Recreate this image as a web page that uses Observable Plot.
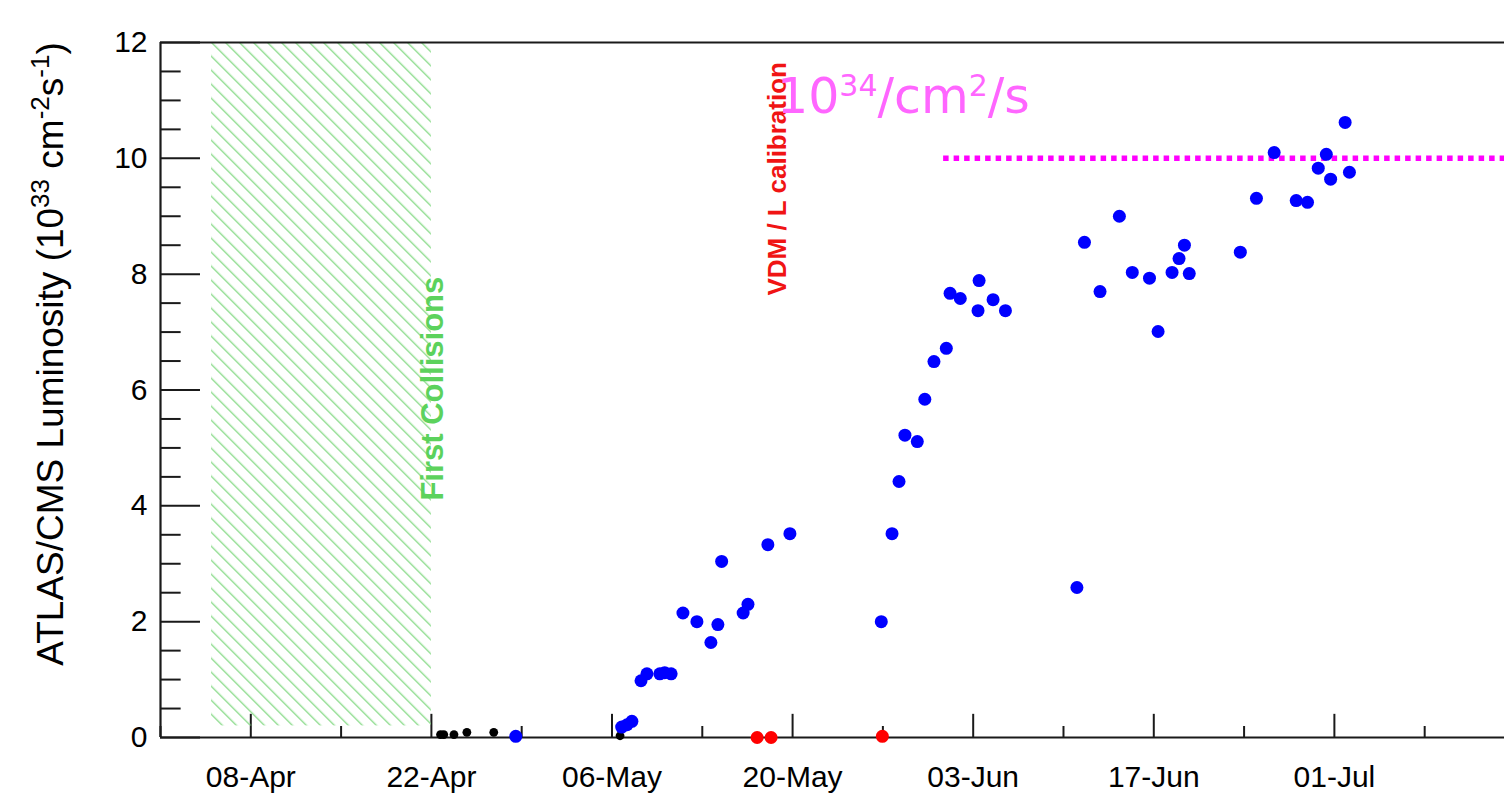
<!DOCTYPE html>
<html><head><meta charset="utf-8">
<script src="https://cdn.jsdelivr.net/npm/d3@7"></script>
<script src="https://cdn.jsdelivr.net/npm/@observablehq/plot@0.6"></script>
<style>html,body{margin:0;padding:0;background:#fff;overflow:hidden}</style>
</head><body><div id="chart"></div>
<script>
// ---- axis / tick data ----
const xStart = "2016-04-01T00:00Z";
const xEnd = "2016-07-14T04:30Z";
const xMajorTicks = ["2016-04-08","2016-04-22","2016-05-06","2016-05-20","2016-06-03","2016-06-17","2016-07-01"];
const xMinorTicks = ["2016-04-01","2016-04-15","2016-04-29","2016-05-13","2016-05-27","2016-06-10","2016-06-24","2016-07-08"];
const yMajorTicks = [0,2,4,6,8,10,12];
const yMinorTicks = [0.5,1,1.5,2.5,3,3.5,4.5,5,5.5,6.5,7,7.5,8.5,9,9.5,10.5,11,11.5];
// title pieces: [text, isSuperscript]
const yTitleParts = [["ATLAS/CMS Luminosity (10", false], ["33", true], [" cm", false], ["-2", true], ["s", false], ["-1", true], [")", false]];
const unitParts = [["10", false], ["34", true], ["/cm", false], ["2", true], ["/s", false]];

// ---- series: blue (physics fills) ----
const blueDates = [
 "2016-04-28T13:00Z","2016-05-06T18:00Z","2016-05-07T04:00Z","2016-05-07T13:00Z",
 "2016-05-08T06:00Z","2016-05-08T17:00Z","2016-05-09T17:00Z","2016-05-10T02:00Z","2016-05-10T14:00Z",
 "2016-05-11T12:00Z","2016-05-12T14:00Z","2016-05-13T16:00Z","2016-05-14T05:00Z","2016-05-14T12:00Z",
 "2016-05-16T04:00Z","2016-05-16T13:00Z","2016-05-18T02:00Z","2016-05-19T19:00Z",
 "2016-05-26T21:00Z","2016-05-27T17:00Z","2016-05-28T06:00Z","2016-05-28T17:00Z","2016-05-29T16:00Z",
 "2016-05-30T06:00Z","2016-05-30T23:00Z","2016-05-31T22:00Z","2016-06-01T05:00Z","2016-06-02T00:00Z",
 "2016-06-03T09:00Z","2016-06-03T11:00Z","2016-06-04T13:00Z","2016-06-05T12:00Z",
 "2016-06-11T01:00Z","2016-06-11T15:00Z","2016-06-12T20:00Z","2016-06-14T08:00Z","2016-06-15T08:00Z",
 "2016-06-16T16:00Z","2016-06-17T08:00Z","2016-06-18T10:00Z","2016-06-18T23:00Z","2016-06-19T09:00Z",
 "2016-06-19T18:00Z","2016-06-23T17:00Z","2016-06-24T23:00Z","2016-06-26T08:00Z","2016-06-28T01:00Z",
 "2016-06-28T22:00Z","2016-06-29T18:00Z","2016-06-30T09:00Z","2016-06-30T17:00Z","2016-07-01T20:00Z",
 "2016-07-02T04:00Z"];
const blueValues = [
 0.02,0.18,0.22,0.28,
 0.98,1.10,1.10,1.12,1.10,
 2.15,2.00,1.64,1.95,3.04,
 2.15,2.30,3.33,3.52,
 2.00,3.52,4.42,5.22,5.11,
 5.84,6.49,6.72,7.67,7.58,
 7.37,7.89,7.56,7.37,
 2.59,8.55,7.70,9.00,8.03,
 7.93,7.01,8.03,8.27,8.50,
 8.01,8.38,9.31,10.10,9.27,
 9.24,9.83,10.07,9.64,10.62,
 9.76];

// ---- series: red (VDM / calibration fills) ----
const redDates = ["2016-05-17T06:00Z","2016-05-18T08:00Z","2016-05-26T23:00Z"];
const redValues = [0.0, 0.0, 0.02];

// ---- series: black (early low-intensity fills) ----
const blackDates = ["2016-04-22T17:00Z","2016-04-22T23:00Z","2016-04-23T18:00Z","2016-04-24T18:00Z","2016-04-26T20:00Z","2016-05-06T15:00Z"];
const blackValues = [0.05,0.05,0.05,0.09,0.09,0.03];

// ---- annotations ----
const hatchStart = "2016-04-04T23:00Z", hatchEnd = "2016-04-22T00:00Z";
const hatchLow = 0.2, hatchHigh = 12;
const targetValue = 10, targetStart = "2016-05-31T17:00Z";
const labelTexts = ["First Collisions", "VDM / L calibration", unitParts.map(p => p[0]).join("")];
const labelDates = ["2016-04-22T21:00Z", "2016-05-19T11:00Z", "2016-05-18T19:00Z"];
const labelValues = [4.09, 7.63, 10.79];

const P = s => new Date(s);
const toRows = (ds, vs) => ds.map((d, i) => ({date: P(d), value: vs[i]}));
const blue = toRows(blueDates, blueValues);
const red = toRows(redDates, redValues);
const black = toRows(blackDates, blackValues);
const labels = labelTexts.map((t, i) => ({text: t, date: P(labelDates[i]), value: labelValues[i]}));
const yTitle = yTitleParts.map(p => p[0]).join("");

const x0 = P(xStart), x1 = P(xEnd);
const dayMs = 864e5;
const majXLen = 0.4, minXLen = 0.19;
const majYLen = 3.1 * dayMs, minYLen = 1.6 * dayMs;
const ink = "#1a1a1a";

const chart = Plot.plot({
  width: 1504, height: 796,
  marginLeft: 160, marginRight: 0, marginTop: 42, marginBottom: 59,
  x: {type: "utc", domain: [x0, x1]},
  y: {domain: [0, 12]},
  style: {fontFamily: "'Liberation Sans', Arial, sans-serif", background: "white", color: "black", overflow: "visible"},
  marks: [
    Plot.rect([{a: P(hatchStart), b: P(hatchEnd)}], {x1: "a", x2: "b", y1: () => hatchLow, y2: () => hatchHigh, fill: "white"}),
    Plot.ruleX(xMajorTicks.map(P), {x: d => d, y1: 0, y2: majXLen, stroke: ink, strokeWidth: 2}),
    Plot.ruleX(xMinorTicks.map(P), {x: d => d, y1: 0, y2: minXLen, stroke: ink, strokeWidth: 2}),
    Plot.ruleY(yMajorTicks, {y: d => d, x1: () => x0, x2: () => new Date(+x0 + majYLen), stroke: ink, strokeWidth: 2}),
    Plot.ruleY(yMinorTicks, {y: d => d, x1: () => x0, x2: () => new Date(+x0 + minYLen), stroke: ink, strokeWidth: 2}),
    Plot.rect([{a: P(hatchStart), b: P(hatchEnd)}], {x1: "a", x2: "b", y1: () => hatchLow, y2: () => hatchHigh, fill: "url(#hatch)"}),
    Plot.ruleY([0], {stroke: ink, strokeWidth: 2.2}),
    Plot.ruleY([12], {stroke: ink, strokeWidth: 2.2}),
    Plot.ruleX([x0], {stroke: ink, strokeWidth: 2.2}),
    Plot.axisX(xMajorTicks.map(P), {tickSize: 0, tickPadding: 28, tickFormat: d3.utcFormat("%d-%b"), fontSize: 30, label: null, fill: "black"}),
    Plot.axisY(yMajorTicks, {tickSize: 0, tickPadding: 13, tickFormat: d => String(d), fontSize: 30, label: null, fill: "black"}),
    Plot.text([yTitle], {frameAnchor: "left", text: d => d, rotate: -90, dx: -98, dy: -36, textAnchor: "middle", lineAnchor: "bottom", fontSize: 37, fill: "black"}),
    Plot.ruleY([{v: targetValue, a: P(targetStart)}], {y: "v", x1: "a", x2: () => x1, stroke: "#ff00ff", strokeWidth: 5.5, strokeDasharray: "5.5,5"}),
    Plot.text([labels[0]], {x: "date", y: "value", text: "text", rotate: -90, textAnchor: "start", lineAnchor: "bottom", fontSize: 31, fontWeight: "bold", fill: "#5cd25c"}),
    Plot.text([labels[1]], {x: "date", y: "value", text: "text", rotate: -90, textAnchor: "start", lineAnchor: "bottom", fontSize: 26, fontWeight: "bold", fill: "#f01414"}),
    Plot.text([labels[2]], {x: "date", y: "value", text: "text", textAnchor: "start", lineAnchor: "bottom", fontSize: 49, fontFamily: "'DejaVu Sans', sans-serif", fill: "#ff66ff"}),
    Plot.dot(black, {x: "date", y: "value", r: 4.4, fill: "black", stroke: "none"}),
    Plot.dot(red, {x: "date", y: "value", r: 6.5, fill: "#ff0000", stroke: "none"}),
    Plot.dot(blue, {x: "date", y: "value", r: 6.5, fill: "#0000ff", stroke: "none"})
  ]
});

const svg = chart.tagName.toLowerCase() === "svg" ? chart : chart.querySelector("svg");
const ns = "http://www.w3.org/2000/svg";
const defs = document.createElementNS(ns, "defs");
defs.innerHTML = '<pattern id="hatch" patternUnits="userSpaceOnUse" width="9.9" height="9.9" patternTransform="rotate(-45)"><line x1="0.7" y1="0" x2="0.7" y2="9.9" stroke="#86da86" stroke-width="1.3"/></pattern>';
svg.insertBefore(defs, svg.firstChild);

// turn superscript parts into real tspans
function superscript(fullText, parts, supSize, raise) {
  for (const t of svg.querySelectorAll("text")) {
    if (t.textContent !== fullText) continue;
    t.textContent = "";
    let up = false;
    for (const [s, sup] of parts) {
      const ts = document.createElementNS(ns, "tspan");
      ts.textContent = s;
      if (sup) { ts.setAttribute("font-size", supSize); if (!up) ts.setAttribute("dy", -raise); up = true; }
      else if (up) { ts.setAttribute("dy", raise); up = false; }
      t.appendChild(ts);
    }
  }
}
superscript(labelTexts[2], unitParts, 30, 17);
superscript(yTitle, yTitleParts, 26, 14);
document.getElementById("chart").appendChild(chart);
</script>
</body></html>
